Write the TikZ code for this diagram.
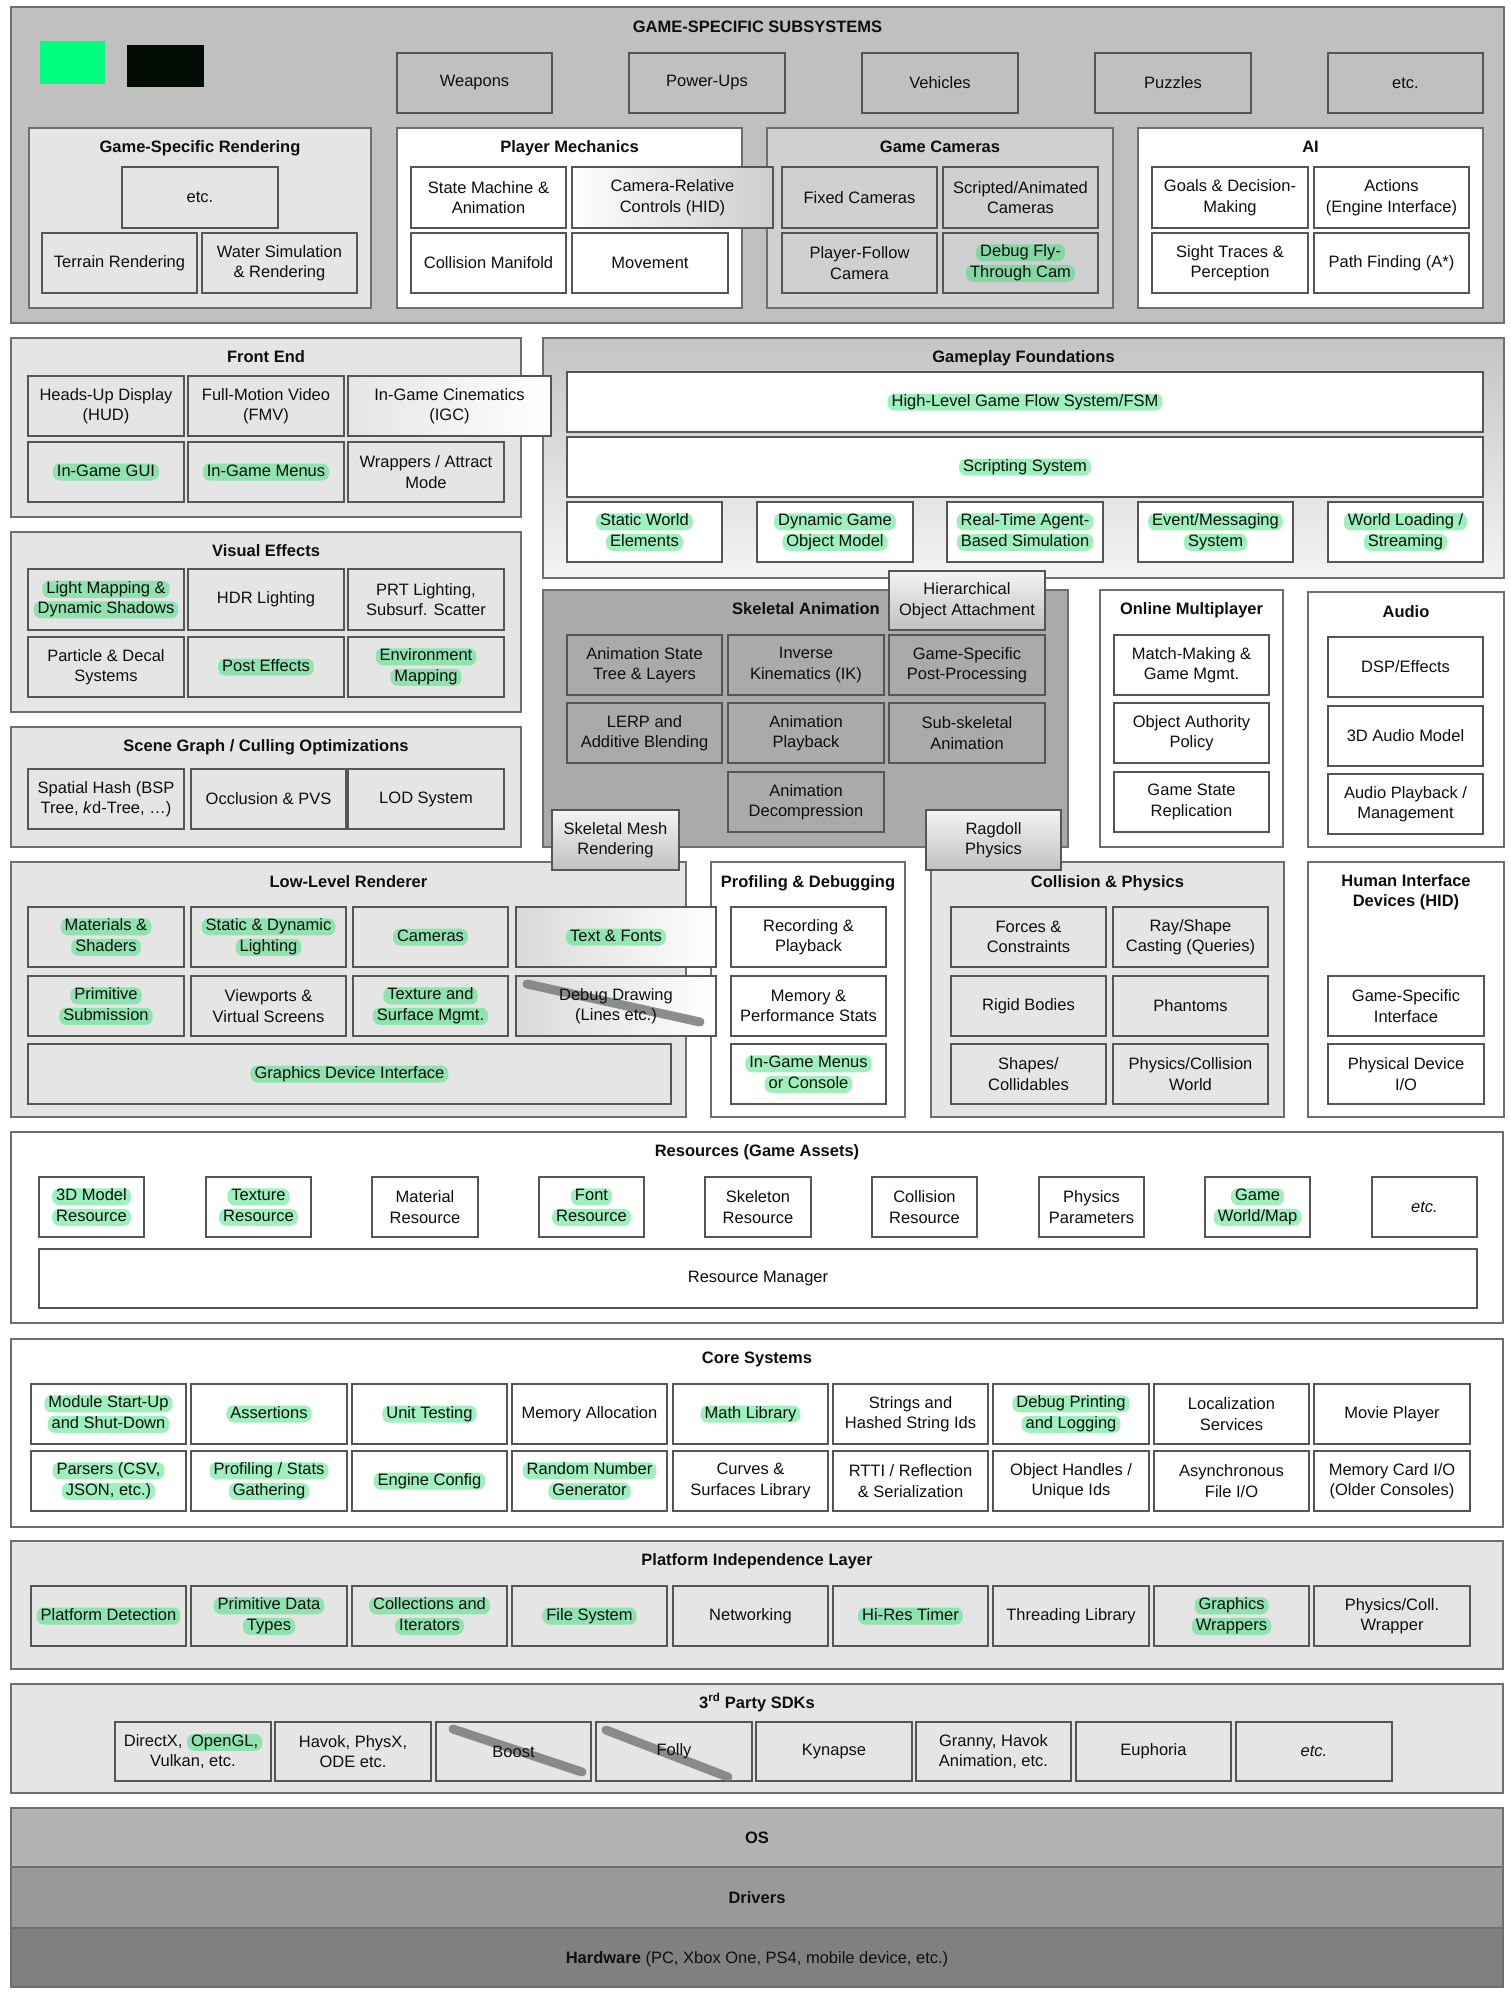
\documentclass[tikz,border=0pt]{standalone}
\usepackage{fontspec}
\setmainfont{Liberation Sans}
\definecolor{gssbg}{RGB}{192,192,192}
\definecolor{cambg}{RGB}{208,208,208}
\definecolor{lightbg}{RGB}{229,229,229}
\definecolor{skelbg}{RGB}{170,170,170}
\definecolor{osbg}{RGB}{179,179,179}
\definecolor{drvbg}{RGB}{153,153,153}
\definecolor{hwbg}{RGB}{128,128,128}
\definecolor{bordc}{RGB}{85,85,85}
\definecolor{panelbord}{RGB}{110,110,110}
\definecolor{textc}{RGB}{15,15,15}
\definecolor{hlgreen}{RGB}{40,225,110}
\definecolor{legendgreen}{RGB}{0,255,128}
\definecolor{legendblack}{RGB}{3,13,6}
\definecolor{slashc}{RGB}{120,125,120}
\definecolor{gfTop}{RGB}{196,196,196}
\definecolor{gradgray}{RGB}{205,205,205}
\definecolor{gradlight}{RGB}{244,244,244}
\definecolor{graddark}{RGB}{192,192,192}
\tikzset{
  base/.style={rectangle, draw=bordc, line width=1.3pt, inner sep=0pt, outer sep=0pt},
  panel/.style={rectangle, draw=panelbord, line width=1.8pt, inner sep=0pt, outer sep=0pt},
  wb/.style={base, fill=white},
  lb/.style={base, fill=lightbg},
  gb/.style={base, fill=gssbg},
  cb/.style={base, fill=cambg},
  sb/.style={base, fill=skelbg},
  txt/.style={font=\fontsize{16.5}{20.5}\selectfont, align=center, inner sep=0pt, text=textc},
  ttl/.style={font=\fontsize{16.5}{20.5}\selectfont\bfseries, align=center, inner sep=0pt, text=textc},
  hlstyle/.style={rectangle, draw=none, fill=hlgreen, fill opacity=0.45, text opacity=1,
    rounded corners=7pt, inner xsep=4pt, inner ysep=1.5pt, text height=11pt, text depth=3pt,
    minimum width=0pt, minimum height=0pt, outer sep=0pt, anchor=base},
  slash/.style={line width=9pt, line cap=round, draw=slashc, draw opacity=0.85},
}
\newcommand\hl[1]{\tikz[baseline=(hlnode.base)]\node[hlstyle] (hlnode) {#1};}
\newcommand\pn[6]{\node[#6, minimum width={#4-#2}, minimum height={#5-#3}] (#1) at ({(#2+#4)/2},{(#3+#5)/2}) {};}
\newcommand\bx[7]{\pn{#1}{#2}{#3}{#4}{#5}{#6}\node[txt] (#1t) at (#1.center) {#7};}
\begin{document}
\begin{tikzpicture}[x=1pt,y=-1pt]
\useasboundingbox (0,0) rectangle (1511,1997);
\fill[white] (0,0) rectangle (1511,1997);

% ================= PANELS =================
\pn{gss}{11}{7}{1504}{323}{panel, fill=gssbg}
\pn{gsr}{29}{128}{371}{308}{panel, fill=lightbg}
\pn{pm}{397}{128}{742}{308}{panel, fill=white}
\pn{gc}{767}{128}{1113}{308}{panel, fill=cambg}
\pn{ai}{1138}{128}{1483}{308}{panel, fill=white}

\pn{fe}{11}{338}{521}{517}{panel, fill=lightbg}
\pn{ve}{11}{532}{521}{712}{panel, fill=lightbg}
\pn{sg}{11}{727}{521}{847}{panel, fill=lightbg}
\pn{gf}{543}{338}{1504}{578}{panel, top color=gfTop, bottom color=gradlight}
\pn{sa}{543}{590}{1068}{847}{panel, fill=skelbg}
\pn{om}{1100}{590}{1283}{847}{panel, fill=white}
\pn{au}{1308}{592}{1504}{847}{panel, fill=white}

\pn{llr}{11}{862}{686}{1117}{panel, fill=lightbg}
\pn{pd}{711}{862}{905}{1117}{panel, fill=white}
\pn{cp}{931}{862}{1284}{1117}{panel, fill=lightbg}
\pn{hid}{1308}{862}{1504}{1117}{panel, fill=white}

\pn{res}{11}{1132}{1503}{1323}{panel, fill=white}
\pn{core}{11}{1339}{1503}{1527}{panel, fill=white}
\pn{pil}{11}{1541}{1503}{1669}{panel, fill=lightbg}
\pn{sdk}{11}{1684}{1503}{1793}{panel, fill=lightbg}
\pn{os}{11}{1808}{1503}{1867}{panel, fill=osbg}
\pn{drv}{11}{1867}{1503}{1928}{panel, fill=drvbg}
\pn{hw}{11}{1928}{1503}{1987}{panel, fill=hwbg}

% ================= TITLES =================
\node[ttl, anchor=base] (gsst) at (757.5,32) {GAME-SPECIFIC SUBSYSTEMS};
\node[ttl, anchor=base] (gsrt) at (200,152) {Game-Specific Rendering};
\node[ttl, anchor=base] (pmt) at (569.5,152) {Player Mechanics};
\node[ttl, anchor=base] (gct) at (940,152) {Game Cameras};
\node[ttl, anchor=base] (ait) at (1310.5,152) {AI};
\node[ttl, anchor=base] (fet) at (266,362) {Front End};
\node[ttl, anchor=base] (gft) at (1023.5,362) {Gameplay Foundations};
\node[ttl, anchor=base] (vet) at (266,556) {Visual Effects};
\node[ttl, anchor=base] (sgt) at (266,751) {Scene Graph / Culling Optimizations};
\node[ttl, anchor=base] (sat) at (806,614) {Skeletal Animation};
\node[ttl, anchor=base] (omt) at (1191.5,614) {Online Multiplayer};
\node[ttl, anchor=base] (aut) at (1406,617) {Audio};
\node[ttl, anchor=base] (llrt) at (348.5,887) {Low-Level Renderer};
\node[ttl, anchor=base] (pdt) at (808,887) {Profiling \& Debugging};
\node[ttl, anchor=base] (cpt) at (1107.5,887) {Collision \& Physics};
\node[ttl] (hidt) at (1406,892) {Human Interface\\Devices (HID)};
\node[ttl, anchor=base] (rest) at (757,1156) {Resources (Game Assets)};
\node[ttl, anchor=base] (coret) at (757,1363) {Core Systems};
\node[ttl, anchor=base] (pilt) at (757,1565) {Platform Independence Layer};
\node[ttl, anchor=base] (sdkt) at (757,1708) {3\textsuperscript{rd} Party SDKs};
\node[ttl, anchor=base] (ost) at (757,1843) {OS};
\node[ttl, anchor=base] (drvt) at (757,1903) {Drivers};
\node[txt, anchor=base] (hwt) at (757,1963) {\textbf{Hardware} (PC, Xbox One, PS4, mobile device, etc.)};

% legend swatches
\node[rectangle, fill=legendgreen, minimum width=65, minimum height=43, inner sep=0pt] (leg1) at (72.5,62.5) {};
\node[rectangle, fill=legendblack, minimum width=77, minimum height=42, inner sep=0pt] (leg2) at (165.5,66) {};

% ================= GAME-SPECIFIC SUBSYSTEMS =================
\bx{weap}{397}{53}{552}{113}{gb}{Weapons}
\bx{pow}{629}{53}{785}{113}{gb}{Power-Ups}
\bx{veh}{862}{53}{1018}{113}{gb}{Vehicles}
\bx{puz}{1095}{53}{1251}{113}{gb}{Puzzles}
\bx{etca}{1328}{53}{1483}{113}{gb}{etc.}

\bx{gsretc}{122}{167}{278}{228}{lb}{etc.}
\bx{terr}{42}{233}{197}{293}{lb}{Terrain Rendering}
\bx{water}{202}{233}{357}{293}{lb}{Water Simulation\\\& Rendering}

\bx{smach}{411}{167}{566}{228}{wb}{State Machine \&\\Animation}
\bx{camrel}{572}{167}{773}{228}{base, left color=white, right color=gradgray}{Camera-Relative\\Controls (HID)}
\bx{colman}{411}{233}{566}{293}{wb}{Collision Manifold}
\bx{movem}{572}{233}{728}{293}{wb}{Movement}

\bx{fixcam}{782}{167}{937}{228}{cb}{Fixed Cameras}
\bx{scrcam}{943}{167}{1098}{228}{cb}{Scripted/Animated\\Cameras}
\bx{plfcam}{782}{233}{937}{293}{cb}{Player-Follow\\Camera}
\bx{dbgcam}{943}{233}{1098}{293}{cb}{\hl{Debug Fly-}\\\hl{Through Cam}}

\bx{goals}{1152}{167}{1308}{228}{wb}{Goals \& Decision-\\Making}
\bx{actions}{1314}{167}{1469}{228}{wb}{Actions\\(Engine Interface)}
\bx{sight}{1152}{233}{1308}{293}{wb}{Sight Traces \&\\Perception}
\bx{pathf}{1314}{233}{1469}{293}{wb}{Path Finding (A*)}

% ================= FRONT END / VFX / SCENE GRAPH =================
\bx{hud}{28}{376}{184}{436}{lb}{Heads-Up Display\\(HUD)}
\bx{fmv}{188}{376}{344}{436}{lb}{Full-Motion Video\\(FMV)}
\bx{igc}{348}{376}{551}{436}{base, left color=lightbg, right color=white}{In-Game Cinematics\\(IGC)}
\bx{igui}{28}{442}{184}{502}{lb}{\hl{In-Game GUI}}
\bx{imenu}{188}{442}{344}{502}{lb}{\hl{In-Game Menus}}
\bx{wrap}{348}{442}{504}{502}{lb}{Wrappers / Attract\\Mode}

\bx{lmap}{28}{569}{184}{630}{lb}{\hl{Light Mapping \&}\\\hl{Dynamic Shadows}}
\bx{hdr}{188}{569}{344}{630}{lb}{HDR Lighting}
\bx{prt}{348}{569}{504}{630}{lb}{PRT Lighting,\\Subsurf. Scatter}
\bx{part}{28}{637}{184}{697}{lb}{Particle \& Decal\\Systems}
\bx{post}{188}{637}{344}{697}{lb}{\hl{Post Effects}}
\bx{envm}{348}{637}{504}{697}{lb}{\hl{Environment}\\\hl{Mapping}}

\bx{spat}{28}{769}{184}{829}{lb}{Spatial Hash (BSP\\Tree, \textit{k}d-Tree, …)}
\bx{occl}{191}{769}{346}{829}{lb}{Occlusion \& PVS}
\bx{lod}{348}{769}{504}{829}{lb}{LOD System}

% ================= GAMEPLAY FOUNDATIONS =================
\bx{hlgf}{567}{372}{1483}{432}{wb}{\hl{High-Level Game Flow System/FSM}}
\bx{script}{567}{437}{1483}{497}{wb}{\hl{Scripting System}}
\bx{statw}{567}{502}{722}{562}{wb}{\hl{Static World}\\\hl{Elements}}
\bx{dyng}{757}{502}{913}{562}{wb}{\hl{Dynamic Game}\\\hl{Object Model}}
\bx{rtag}{947}{502}{1103}{562}{wb}{\hl{Real-Time Agent-}\\\hl{Based Simulation}}
\bx{evt}{1138}{502}{1293}{562}{wb}{\hl{Event/Messaging}\\\hl{System}}
\bx{wload}{1328}{502}{1483}{562}{wb}{\hl{World Loading /}\\\hl{Streaming}}

% ================= SKELETAL ANIMATION =================
\bx{hier}{889}{571}{1045}{630}{base, top color=gradlight, bottom color=graddark}{Hierarchical\\Object Attachment}
\bx{astate}{567}{635}{722}{695}{sb}{Animation State\\Tree \& Layers}
\bx{ik}{728}{635}{884}{695}{sb}{Inverse\\Kinematics (IK)}
\bx{gspp}{889}{635}{1045}{695}{sb}{Game-Specific\\Post-Processing}
\bx{lerp}{567}{703}{722}{763}{sb}{LERP and\\Additive Blending}
\bx{aplay}{728}{703}{884}{763}{sb}{Animation\\Playback}
\bx{subsk}{889}{703}{1045}{763}{sb}{Sub-skeletal\\Animation}
\bx{adec}{728}{772}{884}{832}{sb}{Animation\\Decompression}

% ================= ONLINE / AUDIO =================
\bx{match}{1114}{635}{1269}{695}{wb}{Match-Making \&\\Game Mgmt.}
\bx{oauth}{1114}{703}{1269}{763}{wb}{Object Authority\\Policy}
\bx{gsrep}{1114}{772}{1269}{832}{wb}{Game State\\Replication}
\bx{dsp}{1328}{637}{1483}{697}{wb}{DSP/Effects}
\bx{aud3d}{1328}{706}{1483}{766}{wb}{3D Audio Model}
\bx{aplayb}{1328}{774}{1483}{834}{wb}{Audio Playback /\\Management}

% ================= LOW-LEVEL RENDERER =================
\bx{mats}{28}{907}{184}{967}{lb}{\hl{Materials \&}\\\hl{Shaders}}
\bx{sdl}{191}{907}{346}{967}{lb}{\hl{Static \& Dynamic}\\\hl{Lighting}}
\bx{cams}{353}{907}{508}{967}{lb}{\hl{Cameras}}
\bx{tfont}{516}{907}{716}{967}{base, left color=lightbg!95!black, right color=white}{\hl{Text \& Fonts}}
\bx{prim}{28}{976}{184}{1036}{lb}{\hl{Primitive}\\\hl{Submission}}
\bx{viewp}{191}{976}{346}{1036}{lb}{Viewports \&\\Virtual Screens}
\bx{texs}{353}{976}{508}{1036}{lb}{\hl{Texture and}\\\hl{Surface Mgmt.}}
\pn{dbgdraw}{516}{976}{716}{1036}{base, left color=lightbg!95!black, right color=white}
\coordinate (dd1) at (527,984);  \coordinate (dd2) at (700,1022);
\draw[slash] (dd1) -- (dd2);
\node[txt] (dbgdrawt) at (dbgdraw.center) {Debug Drawing\\(Lines etc.)};
\bx{gdi}{28}{1044}{671}{1104}{lb}{\hl{Graphics Device Interface}}

% overlapping boxes of skeletal animation
\bx{skmesh}{552}{810}{679}{870}{base, top color=gradlight, bottom color=graddark}{Skeletal Mesh\\Rendering}
\bx{ragd}{926}{810}{1061}{870}{base, top color=gradlight, bottom color=graddark}{Ragdoll\\Physics}

% ================= PROFILING / COLLISION / HID =================
\bx{recp}{731}{907}{886}{967}{wb}{Recording \&\\Playback}
\bx{memp}{731}{976}{886}{1036}{wb}{Memory \&\\Performance Stats}
\bx{igmc}{731}{1044}{886}{1104}{wb}{\hl{In-Game Menus}\\\hl{or Console}}

\bx{forces}{951}{907}{1106}{967}{lb}{Forces \&\\Constraints}
\bx{rays}{1113}{907}{1268}{967}{lb}{Ray/Shape\\Casting (Queries)}
\bx{rigid}{951}{976}{1106}{1036}{lb}{Rigid Bodies}
\bx{phant}{1113}{976}{1268}{1036}{lb}{Phantoms}
\bx{shapes}{951}{1044}{1106}{1104}{lb}{Shapes/\\Collidables}
\bx{pcw}{1113}{1044}{1268}{1104}{lb}{Physics/Collision\\World}

\bx{gsif}{1328}{976}{1484}{1036}{wb}{Game-Specific\\Interface}
\bx{pdio}{1328}{1044}{1484}{1104}{wb}{Physical Device\\I/O}

% ================= RESOURCES =================
\bx{r1}{39}{1177}{144}{1237}{wb}{\hl{3D Model}\\\hl{Resource}}
\bx{r2}{206}{1177}{311}{1237}{wb}{\hl{Texture}\\\hl{Resource}}
\bx{r3}{372}{1177}{478}{1237}{wb}{Material\\Resource}
\bx{r4}{539}{1177}{644}{1237}{wb}{\hl{Font}\\\hl{Resource}}
\bx{r5}{705}{1177}{811}{1237}{wb}{Skeleton\\Resource}
\bx{r6}{872}{1177}{977}{1237}{wb}{Collision\\Resource}
\bx{r7}{1039}{1177}{1144}{1237}{wb}{Physics\\Parameters}
\bx{r8}{1205}{1177}{1310}{1237}{wb}{\hl{Game}\\\hl{World/Map}}
\bx{r9}{1372}{1177}{1477}{1237}{wb}{\textit{etc.}}
\bx{resman}{39}{1249}{1477}{1308}{wb}{Resource Manager}

% ================= CORE SYSTEMS =================
\bx{c1}{31}{1384}{186}{1444}{wb}{\hl{Module Start-Up}\\\hl{and Shut-Down}}
\bx{c2}{191}{1384}{347}{1444}{wb}{\hl{Assertions}}
\bx{c3}{352}{1384}{507}{1444}{wb}{\hl{Unit Testing}}
\bx{c4}{512}{1384}{667}{1444}{wb}{Memory Allocation}
\bx{c5}{673}{1384}{828}{1444}{wb}{\hl{Math Library}}
\bx{c6}{833}{1384}{988}{1444}{wb}{Strings and\\Hashed String Ids}
\bx{c7}{993}{1384}{1149}{1444}{wb}{\hl{Debug Printing}\\\hl{and Logging}}
\bx{c8}{1154}{1384}{1309}{1444}{wb}{Localization\\Services}
\bx{c9}{1314}{1384}{1470}{1444}{wb}{Movie Player}
\bx{d1}{31}{1451}{186}{1511}{wb}{\hl{Parsers (CSV,}\\\hl{JSON, etc.)}}
\bx{d2}{191}{1451}{347}{1511}{wb}{\hl{Profiling / Stats}\\\hl{Gathering}}
\bx{d3}{352}{1451}{507}{1511}{wb}{\hl{Engine Config}}
\bx{d4}{512}{1451}{667}{1511}{wb}{\hl{Random Number}\\\hl{Generator}}
\bx{d5}{673}{1451}{828}{1511}{wb}{Curves \&\\Surfaces Library}
\bx{d6}{833}{1451}{988}{1511}{wb}{RTTI / Reflection\\\& Serialization}
\bx{d7}{993}{1451}{1149}{1511}{wb}{Object Handles /\\Unique Ids}
\bx{d8}{1154}{1451}{1309}{1511}{wb}{Asynchronous\\File I/O}
\bx{d9}{1314}{1451}{1470}{1511}{wb}{Memory Card I/O\\(Older Consoles)}

% ================= PLATFORM INDEPENDENCE =================
\bx{p1}{31}{1586}{186}{1646}{lb}{\hl{Platform Detection}}
\bx{p2}{191}{1586}{347}{1646}{lb}{\hl{Primitive Data}\\\hl{Types}}
\bx{p3}{352}{1586}{507}{1646}{lb}{\hl{Collections and}\\\hl{Iterators}}
\bx{p4}{512}{1586}{667}{1646}{lb}{\hl{File System}}
\bx{p5}{673}{1586}{828}{1646}{lb}{Networking}
\bx{p6}{833}{1586}{988}{1646}{lb}{\hl{Hi-Res Timer}}
\bx{p7}{993}{1586}{1149}{1646}{lb}{Threading Library}
\bx{p8}{1154}{1586}{1309}{1646}{lb}{\hl{Graphics}\\\hl{Wrappers}}
\bx{p9}{1314}{1586}{1470}{1646}{lb}{Physics/Coll.\\Wrapper}

% ================= 3RD PARTY SDKs =================
\bx{s1}{115}{1722}{271}{1781}{lb}{DirectX, \hl{OpenGL,}\\Vulkan, etc.}
\bx{s2}{275}{1722}{431}{1781}{lb}{Havok, PhysX,\\ODE etc.}
\pn{s3}{436}{1722}{591}{1781}{lb}
\pn{s4}{596}{1722}{752}{1781}{lb}
\coordinate (bo1) at (453,1729); \coordinate (bo2) at (582,1772);
\coordinate (fo1) at (606,1730); \coordinate (fo2) at (728,1777);
\draw[slash] (bo1) -- (bo2);
\draw[slash] (fo1) -- (fo2);
\node[txt] (s3t) at (s3.center) {Boost};
\node[txt] (s4t) at (s4.center) {Folly};
\bx{s5}{756}{1722}{912}{1781}{lb}{Kynapse}
\bx{s6}{916}{1722}{1071}{1781}{lb}{Granny, Havok\\Animation, etc.}
\bx{s7}{1076}{1722}{1231}{1781}{lb}{Euphoria}
\bx{s8}{1236}{1722}{1392}{1781}{lb}{\textit{etc.}}
\end{tikzpicture}
\end{document}
